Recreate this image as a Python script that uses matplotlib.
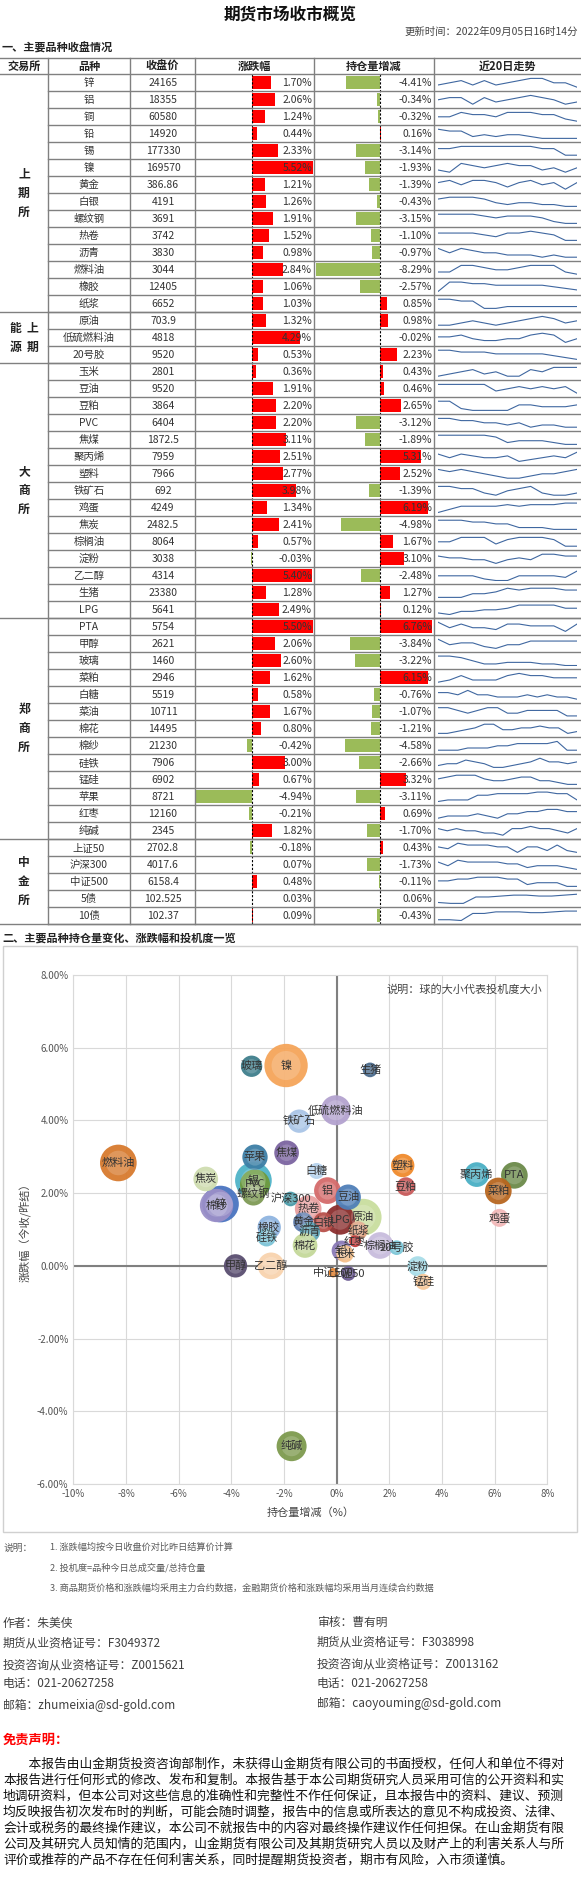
import numpy as np
import matplotlib
matplotlib.use("Agg")
import matplotlib.pyplot as plt

plt.rcParams['font.family'] = ['Noto Sans CJK SC', 'DejaVu Sans']

# ---------------- data ----------------
exchanges = [("上\n期\n所", 14), ("能  上\n源  期", 3), ("大\n商\n所", 15), ("郑\n商\n所", 13), ("中\n金\n所", 5)]
names = ["锌","铝","铜","铅","锡","镍","黄金","白银","螺纹钢","热卷","沥青","燃料油","橡胶","纸浆",
         "原油","低硫燃料油","20号胶",
         "玉米","豆油","豆粕","PVC","焦煤","聚丙烯","塑料","铁矿石","鸡蛋","焦炭","棕榈油","淀粉","乙二醇","生猪","LPG",
         "PTA","甲醇","玻璃","菜粕","白糖","菜油","棉花","棉纱","硅铁","锰硅","苹果","红枣","纯碱",
         "上证50","沪深300","中证500","5债","10债"]
close = ["24165","18355","60580","14920","177330","169570","386.86","4191","3691","3742","3830","3044","12405","6652",
         "703.9","4818","9520",
         "2801","9520","3864","6404","1872.5","7959","7966","692","4249","2482.5","8064","3038","4314","23380","5641",
         "5754","2621","1460","2946","5519","10711","14495","21230","7906","6902","8721","12160","2345",
         "2702.8","4017.6","6158.4","102.525","102.37"]
chg = [1.70,2.06,1.24,0.44,2.33,5.52,1.21,1.26,1.91,1.52,0.98,2.84,1.06,1.03,
       1.32,4.29,0.53,
       0.36,1.91,2.20,2.20,3.11,2.51,2.77,3.98,1.34,2.41,0.57,-0.03,5.40,1.28,2.49,
       5.50,2.06,2.60,1.62,0.58,1.67,0.80,-0.42,3.00,0.67,-4.94,-0.21,1.82,
       -0.18,0.07,0.48,0.03,0.09]
oi = [-4.41,-0.34,-0.32,0.16,-3.14,-1.93,-1.39,-0.43,-3.15,-1.10,-0.97,-8.29,-2.57,0.85,
      0.98,-0.02,2.23,
      0.43,0.46,2.65,-3.12,-1.89,5.31,2.52,-1.39,6.19,-4.98,1.67,3.10,-2.48,1.27,0.12,
      6.76,-3.84,-3.22,6.15,-0.76,-1.07,-1.21,-4.58,-2.66,3.32,-3.11,0.69,-1.70,
      0.43,-1.73,-0.11,0.06,-0.43]
spark = [
 [4,5,6,4,6,4,5,6,7,7,5,5,3],[5,6,6,3,6,4,5,6,7,6,5,3,4],[4,4,6,5,5,4,6,6,6,5,5,3,2],
 [7,6,6,3,4,3,4,4,3,2,2,2,2],[5,5,6,6,6,6,6,6,6,5,5,2,2],[3,2,6,5,4,5,6,5,5,3,4,2,4],
 [5,6,4,6,6,5,3,5,6,4,5,2,5],[6,7,7,7,6,4,3,4,4,3,3,2,2],[6,6,6,6,5,4,5,5,5,4,2,1,1],
 [5,5,5,5,4,3,5,5,6,5,4,1,1],[7,5,7,6,5,5,4,4,4,3,4,3,3],[3,3,6,6,5,4,4,5,6,6,6,3,2],
 [1,7,7,6,6,5,5,5,5,5,4,3,2],[7,7,6,6,2,2,3,3,3,3,3,3,3],
 [3,3,4,5,4,3,4,5,6,7,6,4,5],[5,5,6,4,3,3,4,4,6,7,6,2,4],[6,6,5,5,5,4,4,4,4,4,3,2,1],
 [2,3,4,5,3,4,2,2,5,4,6,6,6],[6,6,6,6,6,3,4,5,4,5,4,5,2],[7,7,3,2,2,2,2,5,5,4,4,4,5],
 [7,7,6,6,5,5,4,5,3,4,4,3,3],[6,6,6,6,6,5,2,3,3,3,2,1,1],[6,4,6,5,4,4,5,2,3,4,5,4,7],
 [6,5,6,5,4,3,2,2,3,4,4,5,6],[6,6,5,5,3,2,4,5,6,3,2,2,3],[1,3,5,5,5,5,6,5,6,6,6,7,7],
 [7,7,7,6,6,5,5,3,3,3,2,2,2],[3,3,5,5,5,2,4,5,5,5,4,1,1],[5,4,4,3,3,1,3,4,3,6,6,5,5],
 [4,4,4,4,2,1,1,4,4,4,4,3,7],[1,1,1,3,3,4,6,5,6,6,6,5,5],[2,1,3,3,4,4,5,7,7,7,7,5,5],
 [6,3,5,3,3,2,5,5,4,4,4,1,5],[6,3,4,4,2,1,3,3,5,5,5,5,5],[7,7,6,4,2,2,3,3,3,2,2,1,1],
 [2,3,5,3,3,3,5,6,5,5,4,4,4],[5,5,4,6,4,4,3,3,3,4,3,4,3,3,2],[4,4,3,2,3,4,4,2,2,3,3,3,3,1,1],
 [1,1,2,3,4,6,6,3,3,4,4,5,4,4,1,2],[2,2,2,3,3,3,4,4,5,5,5,5,6,2,2],[3,4,4,6,5,4,2,2,3,4,5,7,5,5,4,5],
 [5,6,7,7,7,5,4,4,5,6,6,4,4,3,2,2],[1,2,2,2,5,5,6,6,6,6,7,7,6,6,2],[2,3,3,3,4,3,2,4,4,5,5,6,6,5,5],
 [5,4,5,4,4,3,3,2,5,5,6,5,5,4,3,5],[5,4,7,6,6,6,5,5,2,5,5,3,6,3,2],[6,4,7,6,6,6,6,5,5,3,4,4,4,3,2],
 [5,5,6,6,7,7,7,6,6,3,4,4,4,2,2],[2,1.5,1.5,5,5,5.5,6,6,5.5,5.5,6,6.5],[1,1,0.5,5,5,6,6,6,5.5,5.5,6,6.5,6.5]]

# bubble chart (as labelled in the reference chart)
b_labels = ["燃料油","锌","棉纱","焦炭","锡","PVC","苹果","螺纹钢","焦煤","镍","玻璃","铁矿石","低硫燃料油",
            "原油","LPG","铝","豆油","热卷","沪深300","白糖","黄金","白银","纸浆","橡胶","沥青","硅铁","棉花",
            "红枣","棕榈油","20号胶","铅","玉米","生猪","塑料","豆粕","聚丙烯","PTA","菜粕","鸡蛋",
            "甲醇","乙二醇","中证500","上证50","淀粉","锰硅","纯碱"]
b_x = [-8.29,-4.41,-4.56,-4.97,-3.16,-3.10,-3.10,-3.16,-1.90,-1.92,-3.23,-1.42,-0.03,
       1.01,0.13,-0.35,0.44,-1.08,-1.75,-0.76,-1.27,-0.50,0.82,-2.56,-1.01,-2.66,-1.20,
       0.70,1.65,2.28,0.19,0.32,1.27,2.51,2.63,5.32,6.75,6.14,6.18,
       -3.84,-2.49,-0.13,0.44,3.08,3.29,-1.71]
b_y = [2.83,1.70,1.66,2.39,2.35,2.24,2.99,1.98,3.11,5.51,5.49,3.98,4.28,
       1.34,1.27,2.07,1.89,1.57,1.84,2.61,1.20,1.20,0.97,1.06,0.93,0.79,0.56,
       0.68,0.56,0.50,0.42,0.33,5.39,2.76,2.18,2.51,2.49,2.06,1.32,
       0.00,0.00,-0.19,-0.21,-0.01,-0.44,-4.96]
b_spec = [55,55,50,37,55,45,38,35,37,65,32,35,45,
          55,45,40,38,40,22,24,30,30,28,35,30,28,37,
          18,40,22,30,26,22,35,28,37,40,40,27,
          35,40,14,22,30,24,45]
b_colors = ['#D77A2E','#4A74C0','#9A8FC8','#CFDDB0','#4FB3C8','#6E9A3C','#3D7FA6','#7E9A55','#7B64A0','#F5A55A',
            '#3F7F8C','#A9C4E6','#B3A2CF','#C9DE9E','#8B2E2E','#D46A6A','#4F7FB8','#E8A0A0','#4A9AA8','#B7D3EE',
            '#5F7FB0','#B8504A','#E0A080','#8FB4E0','#5FA6B8','#7CC3D6','#C4D89A','#C03A3A','#C8BCDD','#7FC8D8',
            '#8A7AB8','#F5C08A','#4A6A8C','#F08A2C','#C85A5A','#4AAFC4','#6B8A4A','#B8661F','#F2B8B8',
            '#5A4E70','#F8D3AE','#E07820','#6A5A90','#A8DDE8','#F6C89A','#7D9A4E']

# ---------------- figure ----------------
W, H = 581, 1891
fig = plt.figure(figsize=(W/100, H/100), dpi=100)
bg = fig.add_axes([0, 0, 1, 1])
bg.set_xlim(0, W); bg.set_ylim(H, 0); bg.axis('off')

def rect(x0, y0, x1, y1):
    return [x0/W, 1 - y1/H, (x1-x0)/W, (y1-y0)/H]

TXT = '#333333'
GRID = '#808080'
bg.text(290, 14, "期货市场收市概览", ha='center', va='center', fontsize=12, fontweight='bold', color='#111')
bg.text(578, 32, "更新时间：2022年09月05日16时14分", ha='right', va='center', fontsize=7.5, color='#444')
bg.text(2, 48, "一、主要品种收盘情况", ha='left', va='center', fontsize=8, fontweight='bold', color='#222')

top, rh = 74.3, 17.0
n = len(names)
bottom = top + n*rh
cols = [0, 48, 130, 195, 314, 434, 581]
heads = ["交易所", "品种", "收盘价", "涨跌幅", "持仓量增减", "近20日走势"]
for i, h in enumerate(heads):
    bg.text((cols[i]+cols[i+1])/2, 66, h, ha='center', va='center', fontsize=8, fontweight='bold', color='#222')
bg.plot([0, W], [58, 58], color=GRID, lw=1)
bg.plot([0, W], [top, top], color=GRID, lw=1)
for c in cols[1:-1]:
    bg.plot([c, c], [58, bottom], color=GRID, lw=1)
for r in range(1, n+1):
    bg.plot([48, W], [top + r*rh]*2, color=GRID, lw=1)
start = 0
for ex, cnt in exchanges:
    yc = top + (start + cnt/2)*rh
    bg.text(24, yc, ex, ha='center', va='center', fontsize=8.5, fontweight='bold', color='#222', linespacing=1.6)
    start += cnt
    bg.plot([0, W], [top + start*rh]*2, color=GRID, lw=1)

for i in range(n):
    yc = top + (i+0.5)*rh
    bg.text(89, yc, names[i], ha='center', va='center', fontsize=7.5, color=TXT)
    bg.text(163, yc, close[i], ha='center', va='center', fontsize=7.5, color=TXT)
    bg.text(312, yc, f"{chg[i]:.2f}%", ha='right', va='center', fontsize=7.5, color=TXT, zorder=5)
    bg.text(432, yc, f"{oi[i]:.2f}%", ha='right', va='center', fontsize=7.5, color=TXT, zorder=5)

def barcol(x0, x1, zero, ppu, vals):
    ax = fig.add_axes(rect(x0, top, x1, bottom))
    ax.set_xlim((x0-zero)/ppu, (x1-zero)/ppu)
    ax.set_ylim(n, 0)
    cs = ['#FF0000' if v > 0 else '#9BBB59' for v in vals]
    ax.barh(np.arange(n)+0.5, vals, height=0.78, color=cs, zorder=1)
    ax.axvline(0, color='black', ls=(0, (2, 1.5)), lw=0.8)
    ax.axis('off'); ax.patch.set_alpha(0)
barcol(195.5, 314, 251.6, 11.2, chg)
barcol(315, 434, 380, 7.75, oi)
bg.set_zorder(3); bg.patch.set_alpha(0)

for i, s in enumerate(spark):
    y0 = top + i*rh
    ax = fig.add_axes(rect(438, y0+3, 577, y0+rh-3))
    ax.plot(np.arange(len(s)), s, color='#3F67A0', lw=0.8)
    ax.set_xlim(0, len(s)-1); ax.set_ylim(min(s)-0.5, max(s)+0.5)
    ax.axis('off')

# ---------------- bubble chart ----------------
bg.text(2, 938, "二、主要品种持仓量变化、涨跌幅和投机度一览", ha='left', va='center', fontsize=8, fontweight='bold', color='#222')
bg.add_patch(plt.Rectangle((3, 946), 574, 586, fill=False, edgecolor='#D0D0D0', lw=1))
ax = fig.add_axes(rect(73.3, 975, 547.3, 1484))
ax.set_xlim(-10, 8); ax.set_ylim(-6, 8)
ax.set_xticks(np.arange(-10, 9, 2)); ax.set_yticks(np.arange(-6, 9, 2))
ax.set_xticklabels([f"{v}%" for v in range(-10, 9, 2)])
ax.set_yticklabels([f"{v:.2f}%" for v in range(-6, 9, 2)])
ax.tick_params(length=0, labelsize=7, colors='#555')
ax.grid(color='#D9D9D9', lw=0.8)
ax.set_axisbelow(True)
for sp in ax.spines.values():
    sp.set_color('#D9D9D9')
ax.axhline(0, color='#808080', lw=1.5, zorder=1)
ax.axvline(0, color='#808080', lw=1.5, zorder=1)
sz = (np.array(b_spec)/3*0.72*2)**2
ax.scatter(b_x, b_y, s=sz, c=b_colors, edgecolors='none', alpha=0.95, zorder=2)
ax.scatter(np.array(b_x), np.array(b_y), s=sz*0.45, c='white', alpha=0.18, edgecolors='none', zorder=3)
for l, x, y in zip(b_labels, b_x, b_y):
    ax.text(x, y, l, ha='center', va='center', fontsize=8, color='#333', zorder=4)
ax.text(7.8, 7.6, "说明：球的大小代表投机度大小", ha='right', va='center', fontsize=8, color='#444')
ax.set_xlabel("持仓量增减（%）", fontsize=8, color='#444', labelpad=6)
ax.set_ylabel("涨跌幅（今收/昨结）", fontsize=8, color='#444', labelpad=4)

# ---------------- notes ----------------
NC = '#5A5A5A'
bg.text(4, 1548, "说明：", fontsize=7, color=NC, va='center')
notes = ["1. 涨跌幅均按今日收盘价对比昨日结算价计算", "2. 投机度=品种今日总成交量/总持仓量",
         "3. 商品期货价格和涨跌幅均采用主力合约数据，金融期货价格和涨跌幅均采用当月连续合约数据"]
for k, t in enumerate(notes):
    bg.text(50, 1547 + k*20.5, t, fontsize=6.6, color=NC, va='center')

AC = '#404040'
left = ["作者：朱美侠", "期货从业资格证号：F3049372", "投资咨询从业资格证号：Z0015621", "电话：021-20627258", "邮箱：zhumeixia@sd-gold.com"]
right = ["审核：曹有明", "期货从业资格证号：F3038998", "投资咨询从业资格证号：Z0013162", "电话：021-20627258", "邮箱：caoyouming@sd-gold.com"]
ly = [1624, 1643, 1665, 1684, 1705]
ry = [1622, 1642, 1664, 1683, 1703]
for t, y in zip(left, ly):
    bg.text(3, y, t, fontsize=8.5, color=AC, va='center')
for t, y in zip(right, ry):
    bg.text(317, y, t, fontsize=8.5, color=AC, va='center')

bg.text(3, 1740, "免责声明：", fontsize=9.5, color='#FF0000', fontweight='bold', va='center')
disc = ["　　本报告由山金期货投资咨询部制作，未获得山金期货有限公司的书面授权，任何人和单位不得对",
        "本报告进行任何形式的修改、发布和复制。本报告基于本公司期货研究人员采用可信的公开资料和实",
        "地调研资料，但本公司对这些信息的准确性和完整性不作任何保证，且本报告中的资料、建议、预测",
        "均反映报告初次发布时的判断，可能会随时调整，报告中的信息或所表达的意见不构成投资、法律、",
        "会计或税务的最终操作建议，本公司不就报告中的内容对最终操作建议作任何担保。在山金期货有限",
        "公司及其研究人员知情的范围内，山金期货有限公司及其期货研究人员以及财产上的利害关系人与所",
        "评价或推荐的产品不存在任何利害关系，同时提醒期货投资者，期市有风险，入市须谨慎。"]
for k, t in enumerate(disc):
    bg.text(3, 1764 + k*16, t, fontsize=9.2, color='#111', va='center')

fig.savefig("out.png", dpi=100)
